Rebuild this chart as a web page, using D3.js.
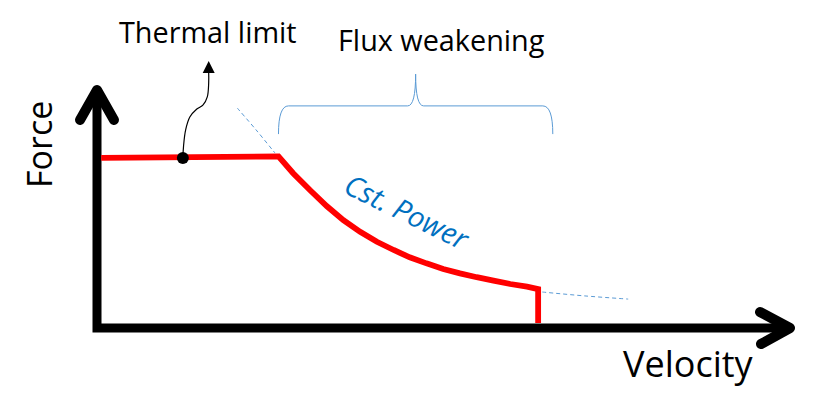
<!DOCTYPE html>
<html>
<head>
<meta charset="utf-8">
<script src="https://cdn.jsdelivr.net/npm/d3@7"></script>
<style>
  body { margin: 0; background: #fff; }
  text { font-family: "Open Sans", sans-serif; }
</style>
</head>
<body>
<svg id="chart" width="838" height="416"></svg>
<script>
// values in % of axis length (velocity, force)
const constForce = [[0.6, 70.0], [26.0, 70.6]];
const constPower = [
    [28.1, 63.7], [30.5, 56.8], [32.9, 50.2], [35.3, 44.4], [37.7, 39.6],
    [40.1, 35.5], [42.5, 32.1], [44.8, 29.1], [47.2, 26.6], [49.6, 24.3],
    [52.0, 22.5], [54.4, 20.9], [56.8, 19.5], [59.2, 18.1], [61.6, 17.0],
    [63.2, 16.0]
];
const cutoff = [[63.2, 2.1]];
const hyperbolaUpper = [[20.1, 90.5], [22.8, 81.5], [25.5, 72.0]];
const hyperbolaLower = [[63.8, 14.8], [69.9, 13.2], [76.1, 11.9]];
const thermalPoint = [12.3, 70.0];
const thermalLeader = [
    [12.3, 70.0], [12.4, 74.9], [12.7, 81.5], [13.3, 86.8], [14.3, 90.1],
    [15.2, 91.8], [15.8, 95.1], [16.0, 100.8], [16.0, 105.3]
];
const fluxRange = [26.0, 65.3];
const braceLevels = { bottom: 79.8, top: 91.4, tip: 104.5 };

const svg = d3.select("#chart");

const x = d3.scaleLinear().domain([0, 100]).range([97, 795]);
const y = d3.scaleLinear().domain([0, 100]).range([328, 85]);

const line = d3.line()
    .x(d => x(d[0]))
    .y(d => y(d[1]));

// axes with open arrow heads
const inset = 5;
const x0 = x(0), y0 = y(0), xEnd = x(100) - inset, yEnd = y(100) + inset;

svg.append("path")
    .attr("fill", "none")
    .attr("stroke", "#000")
    .attr("stroke-width", 9)
    .attr("stroke-linejoin", "miter")
    .attr("d", `M${x0},${yEnd}V${y0}H${xEnd}`);

svg.append("path")
    .attr("fill", "none")
    .attr("stroke", "#000")
    .attr("stroke-width", 10)
    .attr("stroke-linecap", "round")
    .attr("stroke-linejoin", "round")
    .attr("d", `M${x0 - 17},${yEnd + 30}L${x0},${yEnd}L${x0 + 17},${yEnd + 30}`);

svg.append("path")
    .attr("fill", "none")
    .attr("stroke", "#000")
    .attr("stroke-width", 10)
    .attr("stroke-linecap", "round")
    .attr("stroke-linejoin", "round")
    .attr("d", `M${xEnd - 30},${y0 - 16}L${xEnd},${y0}L${xEnd - 29},${y0 + 16}`);

// constant power hyperbola (dashed extensions)
[hyperbolaUpper, hyperbolaLower].forEach(pts => {
    svg.append("path")
        .attr("fill", "none")
        .attr("stroke", "#5b9bd5")
        .attr("stroke-width", 1)
        .attr("stroke-dasharray", "4,3")
        .attr("d", line.curve(d3.curveCatmullRom)(pts));
});

// force-velocity envelope
svg.append("path")
    .datum(constForce.concat(constPower, cutoff))
    .attr("fill", "none")
    .attr("stroke", "#ff0000")
    .attr("stroke-width", 5.8)
    .attr("stroke-linejoin", "miter")
    .attr("d", line.curve(d3.curveLinear));

// thermal limit marker
svg.append("path")
    .datum(thermalLeader)
    .attr("fill", "none")
    .attr("stroke", "#000")
    .attr("stroke-width", 1.2)
    .attr("d", line.curve(d3.curveCatmullRom));

const tip = thermalLeader[thermalLeader.length - 1];
svg.append("path")
    .attr("fill", "#000")
    .attr("d", `M${x(tip[0])},${y(tip[1]) - 11}L${x(tip[0]) - 6},${y(tip[1]) + 1}L${x(tip[0]) + 6},${y(tip[1]) + 1}Z`);

svg.append("circle")
    .attr("cx", x(thermalPoint[0]))
    .attr("cy", y(thermalPoint[1]))
    .attr("r", 6)
    .attr("fill", "#000");

// flux weakening brace
const bl = x(fluxRange[0]), br = x(fluxRange[1]), bm = (bl + br) / 2;
const yb = y(braceLevels.bottom), yt = y(braceLevels.top), yp = y(braceLevels.tip);
svg.append("path")
    .attr("fill", "none")
    .attr("stroke", "#5b9bd5")
    .attr("stroke-width", 1)
    .attr("d", `M${bl},${yb}Q${bl},${yt} ${bl + 10},${yt}L${bm - 8},${yt}` +
        `Q${bm},${yt} ${bm},${yp}Q${bm},${yt} ${bm + 8},${yt}` +
        `L${br - 10},${yt}Q${br},${yt} ${br},${yb}`);

// labels
svg.append("text")
    .attr("x", 119).attr("y", 43)
    .attr("font-size", 28.8)
    .attr("fill", "#000")
    .text("Thermal limit");

svg.append("text")
    .attr("x", 338).attr("y", 51)
    .attr("font-size", 28.8)
    .attr("fill", "#000")
    .text("Flux weakening");

svg.append("text")
    .attr("transform", "translate(342,192) rotate(26)")
    .attr("font-size", 29)
    .attr("font-style", "italic")
    .attr("fill", "#0070c0")
    .text("Cst. Power");

svg.append("text")
    .attr("x", 623).attr("y", 377)
    .attr("font-size", 36)
    .attr("fill", "#000")
    .text("Velocity");

svg.append("text")
    .attr("transform", "translate(52,188) rotate(-90)")
    .attr("font-size", 34)
    .attr("fill", "#000")
    .text("Force");
</script>
</body>
</html>
